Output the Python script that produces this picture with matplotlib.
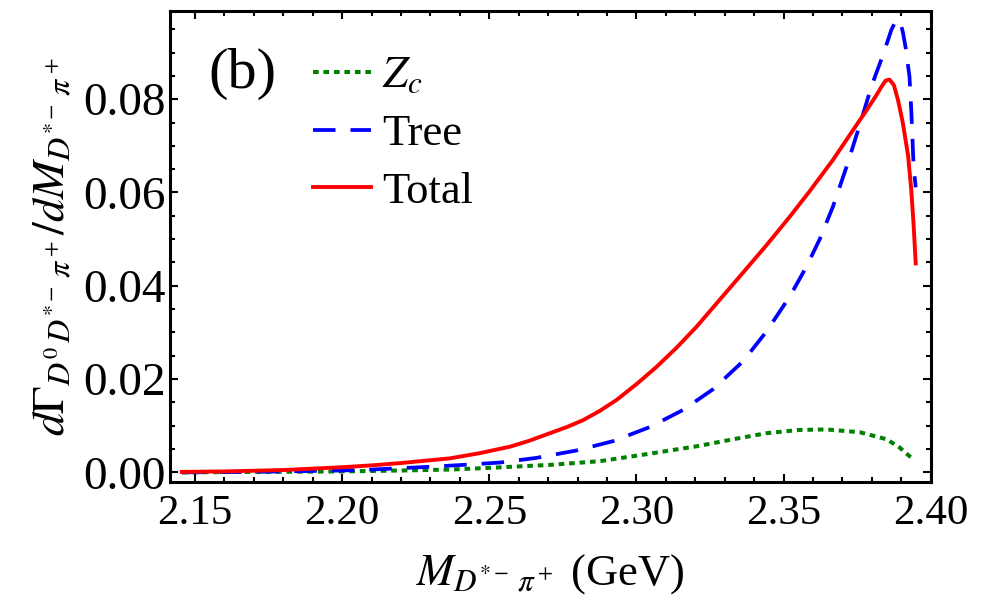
import numpy as np
import matplotlib
matplotlib.use("Agg")
from matplotlib import pyplot as plt
from matplotlib.ticker import MultipleLocator, FormatStrFormatter

plt.rcParams['font.family'] = ['Liberation Serif', 'DejaVu Serif']
plt.rcParams['mathtext.fontset'] = 'stix'

# Total (red, solid)
total_x = [2.1455, 2.16, 2.18, 2.20, 2.21, 2.22, 2.2366, 2.2466, 2.257, 2.2637,
           2.2706, 2.2763, 2.2819, 2.2876, 2.2932, 2.3000, 2.3068, 2.3136,
           2.3204, 2.3283, 2.3362, 2.3442, 2.3521, 2.3589, 2.3668, 2.3730,
           2.3759, 2.3782, 2.3815, 2.3832, 2.3847, 2.3860, 2.3875, 2.3889,
           2.3905, 2.3923, 2.3934, 2.3942, 2.3949]
total_y = [0.0001, 0.0002, 0.0005, 0.0011, 0.0015, 0.0020, 0.0030, 0.0041, 0.0055, 0.0068,
           0.0084, 0.0097, 0.0112, 0.0132, 0.0155, 0.0189, 0.0226, 0.0267,
           0.0312, 0.0370, 0.0428, 0.0487, 0.0548, 0.0603, 0.0670, 0.0728,
           0.0755, 0.0776, 0.0808, 0.0826, 0.0840, 0.0842, 0.0830, 0.0798,
           0.0750, 0.0680, 0.0605, 0.0530, 0.0448]

# Tree (blue, dashed)
tree_x = [2.1455, 2.17, 2.20, 2.21, 2.22, 2.23, 2.2411, 2.2536, 2.266, 2.2797,
          2.2921, 2.3045, 2.3159, 2.326, 2.3362, 2.3442, 2.3521, 2.3577, 2.3623,
          2.3668, 2.3714, 2.3759, 2.3800, 2.3838, 2.3866, 2.3878, 2.3888,
          2.3896, 2.3905, 2.3915, 2.3928, 2.3934, 2.3942, 2.3949]
tree_y = [0.0000, 0.0001, 0.0004, 0.0006, 0.0009, 0.0012, 0.0016, 0.0021, 0.0031, 0.0047,
          0.0067, 0.0097, 0.0134, 0.0178, 0.0238, 0.0302, 0.0377, 0.0440, 0.0500,
          0.0570, 0.0655, 0.0745, 0.0830, 0.0895, 0.0948, 0.0964, 0.0971,
          0.0966, 0.0945, 0.0910, 0.0848, 0.0776, 0.0655, 0.0611]

# Zc (green, dotted)
zc_x = [2.1455, 2.17, 2.20, 2.22, 2.2366, 2.2479, 2.2706, 2.2876, 2.3045, 2.3215,
        2.3329, 2.3442, 2.3555, 2.3646, 2.3759, 2.3850, 2.3895, 2.3940]
zc_y = [0.0000, 0.0001, 0.0002, 0.0004, 0.0006, 0.0009, 0.0016, 0.0024, 0.0040, 0.0057,
        0.0071, 0.0084, 0.0091, 0.0092, 0.0086, 0.0071, 0.0053, 0.0028]

fig = plt.figure(figsize=(9.88, 5.96), dpi=100)
ax = fig.add_axes([0.1721, 0.1918, 0.7699, 0.7897])

ax.plot(zc_x, zc_y, color='#008000', lw=2.9, dashes=(1.4, 1.2),
        dash_capstyle='butt', label=r'$Z_c$')
ax.plot(tree_x, tree_y, color='#0000ff', lw=2.7, dashes=(6, 4),
        dash_capstyle='butt', label='Tree')
ax.plot(total_x, total_y, color='#ff0000', lw=2.8, label='Total')

ax.set_xlim(2.1415, 2.40)
ax.set_ylim(-0.002, 0.0989)

ax.xaxis.set_major_locator(MultipleLocator(0.05))
ax.xaxis.set_minor_locator(MultipleLocator(0.01))
ax.yaxis.set_major_locator(MultipleLocator(0.02))
ax.yaxis.set_minor_locator(MultipleLocator(0.005))
ax.xaxis.set_major_formatter(FormatStrFormatter('%.2f'))
ax.yaxis.set_major_formatter(FormatStrFormatter('%.2f'))

ax.tick_params(which='both', direction='in', top=True, right=True, width=1.5)
ax.tick_params(which='major', length=6)
ax.tick_params(which='minor', length=3.6)
ax.tick_params(axis='x', pad=9, labelsize=31)
ax.tick_params(axis='y', pad=3, labelsize=34)
for s in ax.spines.values():
    s.set_linewidth(2.2)

ax.set_xlabel(r'$M_{D^{*-}\,\pi^+}$ (GeV)', fontsize=32, labelpad=14)
ax.set_ylabel(r'$d\Gamma_{D^0\,D^{*-}\,\pi^+}/dM_{D^{*-}\,\pi^+}$', fontsize=33,
              labelpad=6)

ax.text(0.05, 0.867, '(b)', transform=ax.transAxes, fontsize=42,
        va='center', ha='left')

ax.legend(loc='upper left', bbox_to_anchor=(0.165, 0.942), frameon=False,
          fontsize=32, handlelength=1.3, handletextpad=0.25,
          labelspacing=0.4, borderaxespad=0)

fig.savefig('out.png', dpi=100)
